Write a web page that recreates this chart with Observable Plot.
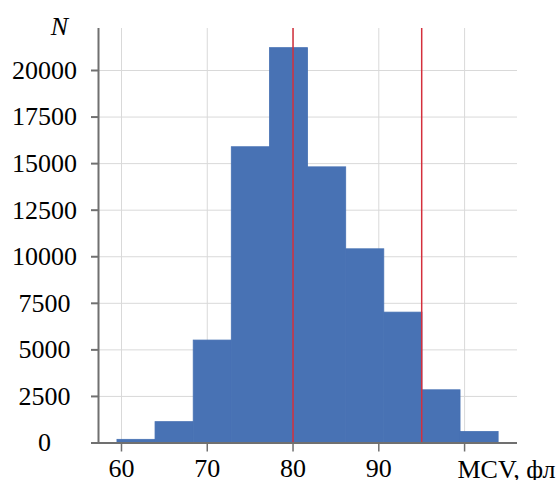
<!DOCTYPE html>
<html>
<head>
<meta charset="utf-8">
<script src="https://cdn.jsdelivr.net/npm/d3@7"></script>
<script src="https://cdn.jsdelivr.net/npm/@observablehq/plot@0.6"></script>
<style>
  html, body { margin: 0; padding: 0; background: #fff; }
  #chart svg { display: block; }
  #chart svg text { font-family: "Liberation Serif", "Times New Roman", serif !important; }
</style>
</head>
<body>
<div id="chart"></div>
<script>
const binStarts = [59.53, 63.97, 68.42, 72.86, 77.31, 81.75, 86.2, 90.64, 95.09, 99.53];
const binEnds   = [63.97, 68.42, 72.86, 77.31, 81.75, 86.2, 90.64, 95.09, 99.53, 103.97];
const counts    = [170, 1120, 5500, 15880, 21200, 14800, 10400, 7000, 2830, 590];
const refLines  = [80, 95];
const xTicks    = [60, 70, 80, 90, 100];
const yTicks    = [0, 2500, 5000, 7500, 10000, 12500, 15000, 17500, 20000];
const xLabel    = "MCV, фл";
const yLabel    = "N";

const bins = counts.map((c, i) => ({x1: binStarts[i], x2: binEnds[i], y: c}));
const font = "Liberation Serif";

const chart = Plot.plot({
  width: 558,
  height: 480,
  marginLeft: 98,
  marginRight: 41,
  marginTop: 28,
  marginBottom: 37.5,
  style: {fontFamily: font, fontSize: "26px", background: "#fff", color: "#000"},
  x: {domain: [57.32, 106.17]},
  y: {domain: [0, 22255]},
  marks: [
    Plot.gridX(xTicks, {stroke: "#d9d9d9", strokeOpacity: 1, strokeWidth: 1}),
    Plot.gridY(yTicks.filter(d => d > 0), {stroke: "#d9d9d9", strokeOpacity: 1, strokeWidth: 1}),
    Plot.rectY(bins, {x1: "x1", x2: "x2", y: "y", fill: "#4872b4", stroke: "#4872b4", strokeWidth: 0.8}),
    Plot.ruleX(refLines, {stroke: "#d4303c", strokeWidth: 1.5}),
    Plot.ruleX([57.32], {stroke: "#707070", strokeWidth: 2}),
    Plot.ruleY([0], {stroke: "#707070", strokeWidth: 2}),
    Plot.axisY({
      ticks: yTicks, tickSize: 7, tickPadding: 47, textAnchor: "middle",
      stroke: "#707070", strokeWidth: 2, fontSize: 26, fontFamily: font, label: null,
      tickFormat: d => String(d)
    }),
    Plot.axisX({
      ticks: xTicks, tickSize: 9, tickPadding: 7,
      stroke: "#707070", strokeWidth: 1.5, fontSize: 26, fontFamily: font, label: null,
      tickFormat: d => d === 100 ? "" : String(d)
    }),
    Plot.text([xLabel], {
      frameAnchor: "bottom-right", textAnchor: "end", lineAnchor: "middle",
      dx: 38, dy: 27, fontSize: 26, fontFamily: font, fill: "#000"
    }),
    Plot.text([yLabel], {
      frameAnchor: "top-left", textAnchor: "middle", lineAnchor: "middle",
      dx: -39, dy: -2, fontSize: 26, fontFamily: font, fontStyle: "italic", fill: "#000"
    })
  ]
});
document.getElementById("chart").appendChild(chart);
</script>
</body>
</html>
